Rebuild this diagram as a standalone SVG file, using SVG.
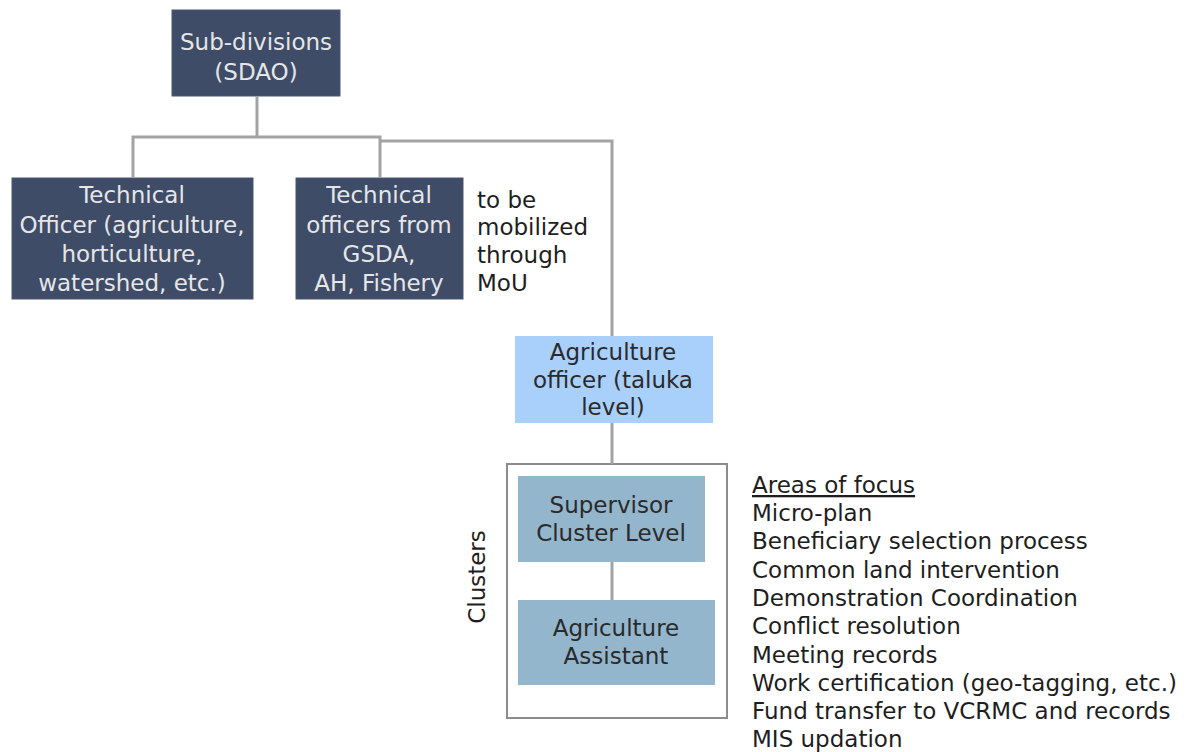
<svg xmlns="http://www.w3.org/2000/svg" width="1188" height="752" viewBox="0 0 1188 752">
  <style>
    .dark { fill: #3e4c68; stroke: #4a5670; stroke-width: 1; }
    .light { fill: #a9d0fb; }
    .mid { fill: #93b6cd; }
    .frame { fill: #ffffff; stroke: #8c8c8c; stroke-width: 2; }
    .wire { fill: none; stroke: #a3a3a3; stroke-width: 3; }
    text { font-family: "DejaVu Sans", Verdana, sans-serif; font-size: 23px; }
    .onDark { fill: #e6e6e6; text-anchor: middle; }
    .onLight { fill: #2a2a2a; text-anchor: middle; }
    .plain { fill: #1e1e1e; }
  </style>

  <rect width="1188" height="752" fill="#ffffff"/>

  <g id="sdao">
    <rect class="dark" x="172" y="10" width="168" height="86"/>
    <text class="onDark" x="256" y="50">Sub-divisions</text>
    <text class="onDark" x="256" y="80">(SDAO)</text>
  </g>

  <g id="technical-officer">
    <rect class="dark" x="12" y="178" width="241" height="121"/>
    <text class="onDark" x="132" y="203">Technical</text>
    <text class="onDark" x="132" y="233">Officer (agriculture,</text>
    <text class="onDark" x="132" y="262">horticulture,</text>
    <text class="onDark" x="132" y="291">watershed, etc.)</text>
  </g>

  <g id="technical-officers-mou">
    <rect class="dark" x="296" y="178" width="167" height="121"/>
    <text class="onDark" x="379" y="203">Technical</text>
    <text class="onDark" x="379" y="233">officers from</text>
    <text class="onDark" x="379" y="262">GSDA,</text>
    <text class="onDark" x="379" y="291">AH, Fishery</text>
  </g>

  <g id="mou-note">
    <text class="plain" x="477" y="208">to be</text>
    <text class="plain" x="477" y="235">mobilized</text>
    <text class="plain" x="477" y="263">through</text>
    <text class="plain" x="477" y="291">MoU</text>
  </g>

  <g id="agriculture-officer">
    <rect class="light" x="515" y="336" width="198" height="87"/>
    <text class="onLight" x="613" y="360">Agriculture</text>
    <text class="onLight" x="613" y="388">officer (taluka</text>
    <text class="onLight" x="613" y="415">level)</text>
  </g>

  <g id="clusters">
    <rect class="frame" x="507" y="464" width="220" height="254"/>
    <text class="plain" transform="translate(485 577) rotate(-90)" text-anchor="middle" fill="#444">Clusters</text>
  </g>

  <g id="supervisor">
    <rect class="mid" x="518" y="476" width="187" height="86"/>
    <text class="onLight" x="611" y="513">Supervisor</text>
    <text class="onLight" x="611" y="541">Cluster Level</text>
  </g>

  <g id="agriculture-assistant">
    <rect class="mid" x="518" y="600" width="197" height="85"/>
    <text class="onLight" x="616" y="636">Agriculture</text>
    <text class="onLight" x="616" y="664">Assistant</text>
  </g>

  <!-- connectors, drawn on top of the cluster frame -->
  <g id="connectors">
    <path class="wire" d="M257 96 V137 M133 178 V137 H380 V178"/>
    <path class="wire" d="M380 141 H612 V336"/>
    <path class="wire" d="M612 423 V464"/>
    <path class="wire" d="M612 562 V600"/>
  </g>

  <g id="areas-of-focus">
    <text class="plain" x="752" y="493" text-decoration="underline">Areas of focus</text>
    <text class="plain" x="752" y="521">Micro-plan</text>
    <text class="plain" x="752" y="549">Beneficiary selection process</text>
    <text class="plain" x="752" y="578">Common land intervention</text>
    <text class="plain" x="752" y="606">Demonstration Coordination</text>
    <text class="plain" x="752" y="634">Conflict resolution</text>
    <text class="plain" x="752" y="663">Meeting records</text>
    <text class="plain" x="752" y="691">Work certification (geo-tagging, etc.)</text>
    <text class="plain" x="752" y="719">Fund transfer to VCRMC and records</text>
    <text class="plain" x="752" y="747">MIS updation</text>
  </g>
</svg>
